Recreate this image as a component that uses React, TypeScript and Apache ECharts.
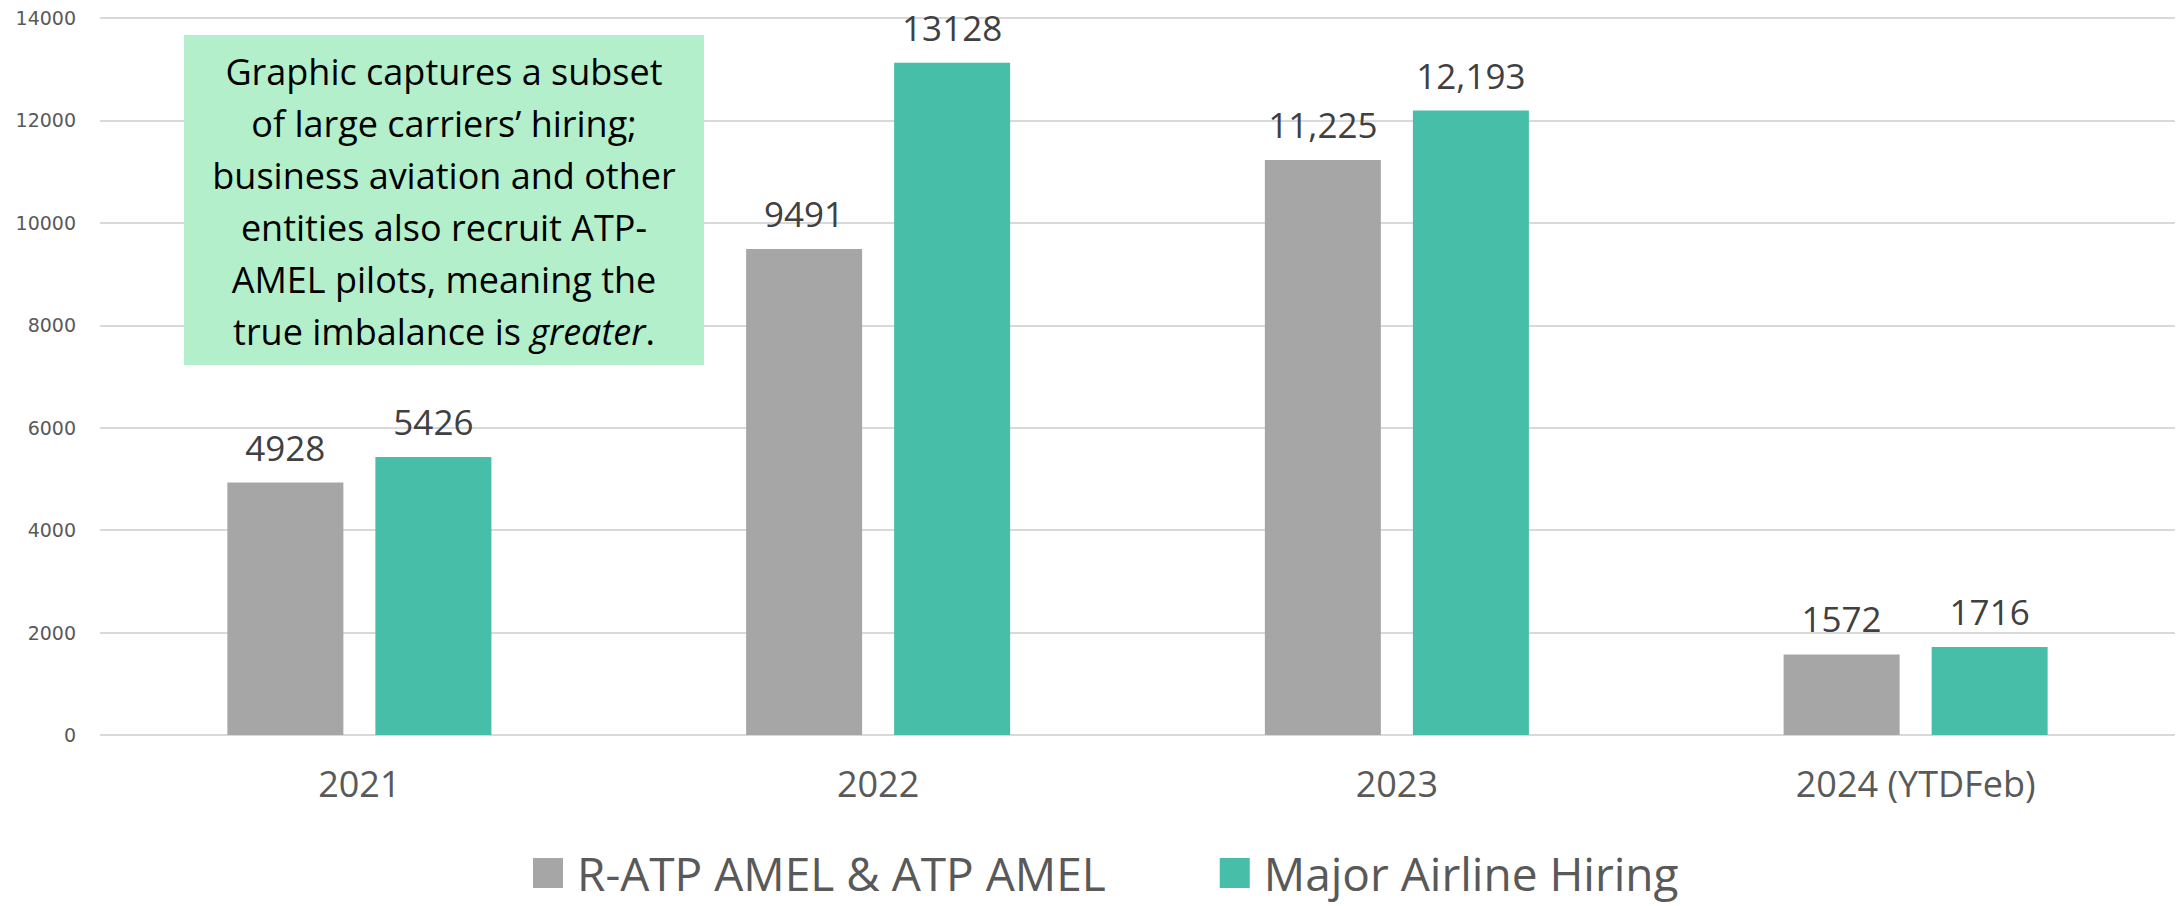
import React, { useEffect, useRef } from "react";
import * as echarts from "echarts";

const categories = ["2021", "2022", "2023", "2024 (YTDFeb)"];
const ratpValues = [4928, 9491, 11225, 1572];
const ratpLabels = ["4928", "9491", "11,225", "1572"];
const majorValues = [5426, 13128, 12193, 1716];
const majorLabels = ["5426", "13128", "12,193", "1716"];
const seriesNames = ["R-ATP AMEL & ATP AMEL", "Major Airline Hiring"];
const noteLines = [
  "Graphic captures a subset",
  "of large carriers\u2019 hiring;",
  "business aviation and other",
  "entities also recruit ATP-",
  "AMEL pilots, meaning the",
  "true imbalance is {i|greater}.",
];

const FONT = "'Open Sans', 'Noto Sans', sans-serif";

export default function App() {
  const ref = useRef<HTMLDivElement>(null);
  useEffect(() => {
    if (!ref.current) return;
    const chart = echarts.init(ref.current, undefined, { renderer: "svg" });
    const labelStyle = (labels: string[]) => ({
      show: true,
      position: "top" as const,
      distance: 18,
      fontSize: 35,
      fontFamily: FONT,
      color: "#404040",
      formatter: (p: any) => labels[p.dataIndex],
    });
    chart.setOption({
      animation: false,
      backgroundColor: "#ffffff",
      grid: { left: 100, right: 1, top: 18, bottom: 171, containLabel: false },
      xAxis: {
        type: "category",
        data: categories,
        axisLine: { show: false },
        axisTick: { show: false },
        axisLabel: {
          fontSize: 36,
          fontFamily: FONT,
          color: "#595959",
          margin: 30,
        },
      },
      yAxis: {
        type: "value",
        min: 0,
        max: 14000,
        interval: 2000,
        axisLine: { show: false },
        axisTick: { show: false },
        axisLabel: {
          fontSize: 19,
          fontFamily: "'DejaVu Sans', sans-serif",
          color: "#595959",
          margin: 24,
          formatter: (v: number) => String(v),
        },
        splitLine: { lineStyle: { color: "#d9d9d9", width: 2 } },
      },
      legend: {
        left: 528,
        top: 845,
        itemWidth: 30,
        itemHeight: 30,
        itemGap: 114,
        icon: "rect",
        textStyle: {
          fontSize: 46,
          fontFamily: FONT,
          color: "#595959",
          padding: [0, 0, 0, 9],
        },
        data: seriesNames,
      },
      series: [
        {
          name: seriesNames[0],
          type: "bar",
          data: ratpValues,
          barWidth: 116,
          barGap: "27.6%",
          itemStyle: { color: "#A6A6A6" },
          label: labelStyle(ratpLabels),
        },
        {
          name: seriesNames[1],
          type: "bar",
          data: majorValues,
          barWidth: 116,
          barGap: "27.6%",
          itemStyle: { color: "#46BEA8" },
          label: labelStyle(majorLabels),
        },
      ],
      graphic: [
        {
          type: "rect",
          shape: { x: 184, y: 35, width: 520, height: 330 },
          style: { fill: "#B3EFCB" },
          z: 100,
        },
        {
          type: "text",
          x: 444,
          y: 201,
          z: 101,
          style: {
            text: noteLines.join("\n"),
            fontSize: 36,
            fontFamily: FONT,
            fill: "#000000",
            align: "center",
            verticalAlign: "middle",
            lineHeight: 52,
            rich: {
              i: {
                fontSize: 36,
                fontFamily: FONT,
                fontStyle: "italic",
                fill: "#000000",
                lineHeight: 52,
              },
            },
          },
        },
      ],
    });
    return () => chart.dispose();
  }, []);
  return (
    <div
      ref={ref}
      style={{ position: "fixed", left: 0, top: 0, width: 2176, height: 906 }}
    />
  );
}
